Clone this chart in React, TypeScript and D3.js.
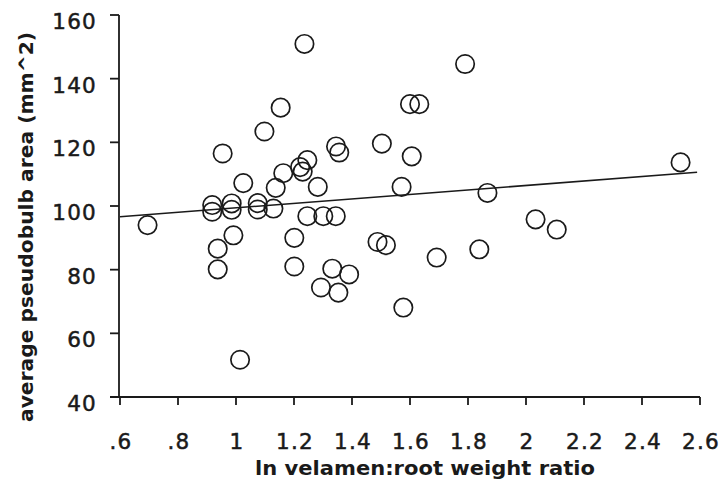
import React from "react";
import * as d3 from "d3";

const xVals = [
  0.695, 0.918, 0.918, 0.985, 0.985, 1.075, 1.075, 1.129, 1.025, 1.137,
  1.282, 1.246, 1.301, 1.344, 0.991, 0.937, 0.937, 1.201, 1.201, 1.332,
  1.39, 1.293, 1.353, 1.488, 1.517, 1.577, 1.571, 1.014, 1.236, 1.154,
  1.098, 0.954, 1.345, 1.356, 1.503, 1.6, 1.632, 1.606, 1.246, 1.221,
  1.23, 1.163, 1.79, 2.533, 1.867, 2.033, 2.106, 1.839, 1.692,
];
const yVals = [
  94.0, 100.3, 98.2, 100.8, 98.8, 100.9, 98.9, 99.2, 107.2, 105.7,
  106.0, 96.8, 96.8, 96.8, 90.8, 86.6, 80.1, 90.0, 81.0, 80.3,
  78.5, 74.4, 72.8, 88.7, 87.7, 68.1, 106.0, 51.7, 150.9, 130.9,
  123.4, 116.5, 118.7, 116.8, 119.6, 132.0, 132.0, 115.6, 114.4, 112.2,
  110.8, 110.3, 144.6, 113.7, 104.1, 95.8, 92.6, 86.4, 83.8,
];
const fitX = [0.6, 2.59];
const fitY = [96.6, 110.6];
const xTicks = [0.6, 0.8, 1, 1.2, 1.4, 1.6, 1.8, 2, 2.2, 2.4, 2.6];
const xTickLabels = [".6", ".8", "1", "1.2", "1.4", "1.6", "1.8", "2", "2.2", "2.4", "2.6"];
const yTicks = [40, 60, 80, 100, 120, 140, 160];
const xTitle = "ln velamen:root weight ratio";
const yTitle = "average pseudobulb area (mm^2)";

export default function App() {
  const x = d3.scaleLinear().domain([0.6, 2.6]).range([120, 700]);
  const y = d3.scaleLinear().domain([40, 160]).range([397, 15]);
  const ink = "#1a1a1a";
  const line = d3
    .line<number>()
    .x((d) => x(fitX[d]))
    .y((d) => y(fitY[d]));
  return (
    <svg
      width={726}
      height={489}
      style={{ position: "absolute", left: 0, top: 0, background: "#fff" }}
    >
      <rect width={726} height={489} fill="#fff" />
      {/* axes */}
      <line x1={x(0.6) - 1} x2={x(0.6) - 1} y1={y(160)} y2={y(40)} stroke={ink} strokeWidth={1.8} />
      <line x1={x(0.6) - 10} x2={x(2.6)} y1={y(40)} y2={y(40)} stroke={ink} strokeWidth={1.8} />
      {yTicks.map((t) => (
        <g key={"y" + t}>
          <line x1={x(0.6) - 10} x2={x(0.6) - 1} y1={y(t)} y2={y(t)} stroke={ink} strokeWidth={1.8} />
          <text
            x={97}
            y={y(t) + 14}
            textAnchor="end"
            fontFamily="DejaVu Sans"
            fontSize={21.5}
            letterSpacing={1.2}
            fill={ink}
            stroke={ink}
            strokeWidth={0.5}
          >
            {t}
          </text>
        </g>
      ))}
      {xTicks.map((t, i) => (
        <g key={"x" + i}>
          <line x1={x(t)} x2={x(t)} y1={y(40)} y2={y(40) + 8} stroke={ink} strokeWidth={1.8} />
          <text
            x={x(t) + 1}
            y={449}
            textAnchor="middle"
            fontFamily="DejaVu Sans"
            fontSize={21.5}
            letterSpacing={1.2}
            fill={ink}
            stroke={ink}
            strokeWidth={0.5}
          >
            {xTickLabels[i]}
          </text>
        </g>
      ))}
      <text
        x={425}
        y={475}
        textAnchor="middle"
        fontFamily="DejaVu Sans"
        fontWeight="bold"
        fontSize={20}
        textLength={340}
        lengthAdjust="spacingAndGlyphs"
        fill={ink}
      >
        {xTitle}
      </text>
      <text
        transform="translate(33,227) rotate(-90)"
        textAnchor="middle"
        fontFamily="DejaVu Sans"
        fontWeight="bold"
        fontSize={19}
        textLength={390}
        lengthAdjust="spacingAndGlyphs"
        fill={ink}
      >
        {yTitle}
      </text>
      {/* fit line */}
      <path d={line([0, 1]) || ""} fill="none" stroke={ink} strokeWidth={1.6} />
      {/* points */}
      {xVals.map((v, i) => (
        <circle
          key={"p" + i}
          cx={x(v)}
          cy={y(yVals[i])}
          r={9.2}
          fill="none"
          stroke={ink}
          strokeWidth={1.7}
        />
      ))}
    </svg>
  );
}
